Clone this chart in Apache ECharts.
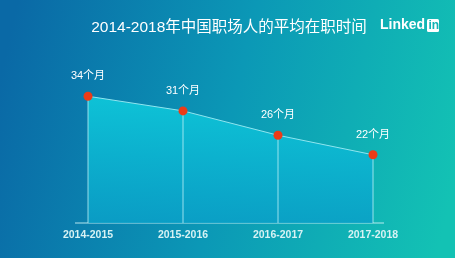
<!DOCTYPE html>
<html><head><meta charset="utf-8">
<script src="https://cdn.jsdelivr.net/npm/echarts@6/dist/echarts.min.js"></script>
<style>html,body{margin:0;padding:0;}#c{width:455px;height:258px;}</style>
</head><body><div id="c"></div>
<script>
const titleText = '2014-2018年中国职场人的平均在职时间';
const categories = ['2014-2015', '2015-2016', '2016-2017', '2017-2018'];
const tenureMonths = [34, 31, 26, 22];
const valueLabels = ['34个月', '31个月', '26个月', '22个月'];

const FONT = '"Liberation Sans", "Noto Sans CJK SC", sans-serif';
const chart = echarts.init(document.getElementById('c'));
chart.setOption({
  animation: false,
  backgroundColor: new echarts.graphic.LinearGradient(0, 0.3, 1, 0.7, [
    {offset: 0, color: '#0a69a6'},
    {offset: 0.5, color: '#0b98b6'},
    {offset: 1, color: '#13c2b4'}
  ]),
  title: {
    text: titleText, left: 224, top: 15, textAlign: 'center',
    textStyle: {color: '#ffffff', fontSize: 15.5, fontWeight: 'normal', fontFamily: FONT}
  },
  grid: {left: 88, right: 82, top: 67, bottom: 35},
  xAxis: {
    type: 'category', data: categories, boundaryGap: false,
    axisLine: {show: false}, axisTick: {show: false},
    axisLabel: {color: '#d6f2f4', fontSize: 10.5, fontWeight: 'bold', margin: 7, fontFamily: FONT},
    splitLine: {show: false}
  },
  yAxis: {type: 'value', min: 8, max: 40, show: false, splitLine: {show: false}},
  graphic: [
    {type: 'line', shape: {x1: 75, y1: 223, x2: 384, y2: 223}, style: {stroke: 'rgba(200,240,245,0.6)', lineWidth: 1.5}, z: 1},
    {type: 'text', left: 380, top: 18, style: {text: 'Linked', fill: '#ffffff', font: 'bold 14px "Liberation Sans", sans-serif'}},
    {type: 'rect', shape: {x: 427, y: 19, width: 12, height: 13, r: 1.5}, style: {fill: '#ffffff'}},
    {type: 'text', left: 428.5, top: 19.5, style: {text: 'in', fill: '#13b3b6', font: 'bold 12px "Liberation Sans", sans-serif'}, z: 10}
  ],
  series: [
    {
      type: 'line', data: tenureMonths, z: 1, silent: true,
      symbol: 'none',
      lineStyle: {width: 0},
      areaStyle: {origin: 'start', opacity: 1, color: new echarts.graphic.LinearGradient(0, 0, 0, 1, [
        {offset: 0, color: 'rgba(14,200,218,0.92)'},
        {offset: 1, color: 'rgba(10,160,200,0.85)'}
      ])}
    },
    {
      type: 'bar', data: tenureMonths, barWidth: 1, z: 2, silent: true,
      itemStyle: {color: 'rgba(200,245,250,0.75)'}
    },
    {
      type: 'line', data: tenureMonths, z: 3,
      lineStyle: {color: '#8fe6f0', width: 1},
      symbol: 'circle', symbolSize: 9,
      itemStyle: {color: '#ec3b17', borderWidth: 0},
      label: {
        show: true, position: 'top', distance: 10,
        formatter: p => valueLabels[p.dataIndex],
        color: '#ffffff', fontSize: 11, fontFamily: FONT
      }
    }
  ]
});
</script></body></html>
